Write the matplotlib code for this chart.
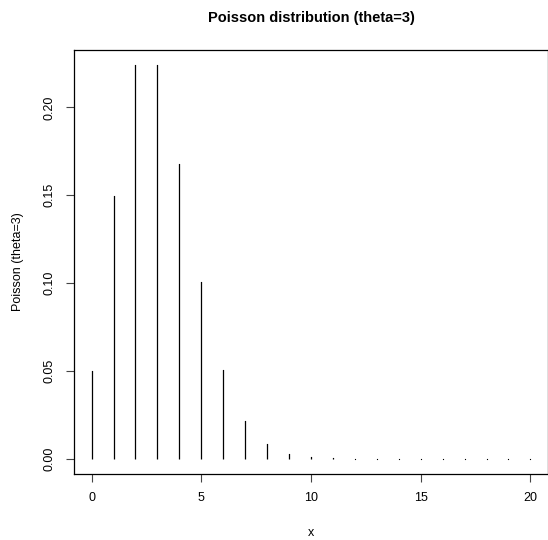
import numpy as np
import matplotlib.pyplot as plt

plt.rcParams['font.family'] = ['Liberation Sans', 'DejaVu Sans']

# values (the tail is too small to read, only dots show)
x_vals = list(range(0, 21))
probs = [0.0498, 0.1494, 0.2240, 0.2240, 0.1680, 0.1008, 0.0504, 0.0216,
         0.0081, 0.0027, 0.0008, 0.0002, 0.00006, 0.00001, 2e-6, 4e-7,
         1e-7, 2e-8, 3e-9, 5e-10, 1e-10]
x_ticks = [0, 5, 10, 15, 20]
y_ticks = [0.00, 0.05, 0.10, 0.15, 0.20]

W, H = 548, 540
fig = plt.figure(figsize=(W / 100, H / 100), dpi=100)
left, right, top, bottom = 74, 548, 49.5, 474.4
ax = fig.add_axes([left / W, 1 - bottom / H, (right - left) / W, (bottom - top) / H])

ax.vlines(x_vals, 0, probs, colors='black', linewidth=0.9)
# R draws zero-length stems as a dot, so add a tiny cap at each stem top
ax.plot(x_vals, probs, 's', color='black', markersize=0.8, markeredgewidth=0)

ax.set_xlim(-0.8, 20.8)
ymax = max(probs)
ax.set_ylim(-0.04 * ymax, 1.04 * ymax)

ax.set_xticks(x_ticks)
ax.set_xticklabels([str(t) for t in x_ticks])
ax.set_yticks(y_ticks)
ax.set_yticklabels(["%.2f" % t for t in y_ticks], rotation=90, va='center')

ax.tick_params(direction='out', length=5.5, width=0.8, labelsize=9, color='#444444')
ax.tick_params(axis='x', pad=7)
ax.tick_params(axis='y', pad=7.5)
for s in ax.spines.values():
    s.set_linewidth(0.9)

fig.text(311 / W, 1 - 18 / H, "Poisson distribution (theta=3)", ha='center', va='center',
         fontsize=10.5, fontweight='bold')
fig.text(311 / W, 1 - 533 / H, "x", ha='center', va='center', fontsize=9)
fig.text(18 / W, 1 - 262 / H, "Poisson (theta=3)", ha='center', va='center',
         rotation=90, fontsize=9)

fig.savefig("out.png", dpi=100)
